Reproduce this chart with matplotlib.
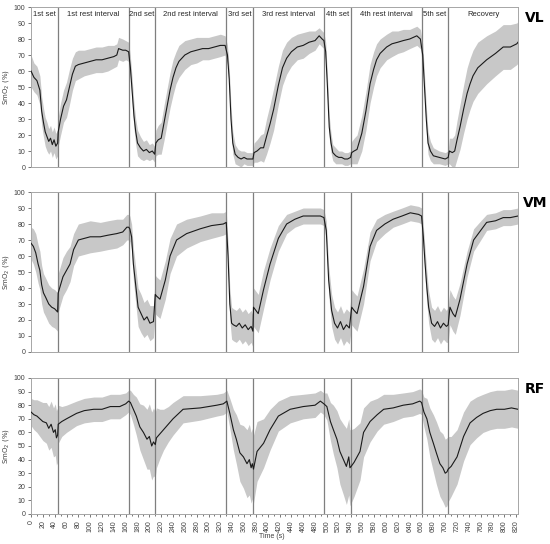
import matplotlib
matplotlib.use("Agg")
import matplotlib.pyplot as plt
from matplotlib.ticker import MultipleLocator

# ---------------- data ----------------
boundaries = [45, 165, 210, 330, 375, 495, 540, 660, 705]
phase_labels = ["1st set", "1st rest interval", "2nd set", "2nd rest interval",
                "3rd set", "3rd rest interval", "4th set", "4th rest interval",
                "5th set", "Recovery"]
muscles = ["VL", "VM", "RF"]

vl_time = [0, 5, 10, 15, 18, 21, 24, 27, 30, 33, 36, 39, 42, 45,
           46, 50, 55, 60, 65, 70, 75, 80, 90, 100, 110, 120, 130, 140, 145, 148, 155, 160, 165,
           168, 171, 174, 177, 180, 185, 190, 195, 200, 205, 209,
           211, 215, 220, 225, 230, 235, 240, 245, 250, 260, 270, 280, 290, 300, 310, 320, 328,
           332, 335, 338, 341, 345, 350, 355, 360, 365, 370, 375,
           377, 382, 388, 393, 398, 404, 410, 418, 425, 432, 440, 450, 460, 470, 480, 487, 492, 495,
           498, 501, 504, 507, 510, 515, 520, 525, 530, 535, 540,
           542, 546, 551, 559, 566, 573, 579, 584, 590, 601, 610, 620, 629, 640, 652, 658,
           662, 665, 668, 671, 675, 680, 690, 700, 705,
           707, 712, 716, 720, 725, 731, 737, 742, 747, 755, 770, 785, 798, 810, 821, 823]
vl_mean = [60, 56, 54, 48, 35, 28, 22, 19, 16, 18, 14, 17, 13, 15,
           22, 30, 38, 42, 50, 58, 63, 64, 65, 66, 67, 67, 68, 69, 70, 74, 73, 73, 72,
           62, 47, 32, 22, 15, 12, 10, 11, 9, 10, 8,
           15, 17, 18, 28, 38, 48, 56, 62, 66, 70, 72, 73, 74, 74, 75, 76, 76,
           70, 55, 30, 15, 8, 6, 5, 6, 5, 5, 5,
           9, 10, 12, 12, 19, 27, 36, 51, 62, 68, 72, 75, 76, 78, 79, 82, 80, 79,
           72, 50, 25, 15, 9, 7, 6, 6, 5, 5, 6,
           9, 10, 11, 21, 35, 52, 61, 67, 71, 75, 77, 78, 79, 80, 82, 80,
           70, 50, 30, 15, 10, 7, 6, 5, 6,
           10, 9, 10, 17, 25, 36, 46, 52, 57, 62, 67, 71, 75, 75, 77, 78]
vl_sd = [10, 9, 9, 9, 9, 9, 9, 9, 8, 8, 8, 8, 8, 8,
         9, 10, 10, 11, 11, 10, 9, 9, 8, 8, 8, 8, 8, 7, 7, 7, 7, 6, 6,
         7, 8, 8, 8, 8, 7, 6, 6, 5, 5, 5,
         8, 9, 10, 11, 11, 11, 11, 10, 10, 9, 8, 8, 7, 7, 7, 7, 6,
         6, 7, 8, 7, 6, 5, 5, 4, 4, 4, 4,
         6, 7, 8, 9, 11, 12, 13, 12, 11, 10, 9, 8, 8, 7, 6, 5, 5, 5,
         6, 7, 7, 6, 5, 5, 4, 4, 4, 4, 4,
         7, 8, 9, 11, 12, 12, 11, 10, 9, 8, 8, 7, 7, 6, 6, 6,
         7, 8, 8, 7, 6, 5, 4, 4, 4,
         8, 9, 10, 12, 14, 15, 16, 16, 16, 16, 15, 14, 14, 14, 13, 13]

vm_time = [0, 4, 8, 12, 15, 18, 21, 25, 30, 35, 40, 45,
           46, 54, 60, 66, 72, 80, 100, 117, 130, 145, 155, 162, 165,
           167, 170, 173, 176, 181, 186, 191, 196, 201, 207,
           210, 212, 218, 227, 235, 246, 263, 286, 305, 325, 330,
           333, 336, 339, 342, 347, 352, 357, 362, 367, 372, 375,
           376, 380, 384, 393, 404, 418, 432, 446, 460, 475, 489, 495,
           499, 503, 508, 513, 518, 523, 528, 533, 538,
           542, 546, 551, 562, 573, 584, 598, 612, 627, 641, 655, 660,
           663, 666, 669, 672, 677, 682, 687, 692, 697, 702,
           705, 708, 713, 717, 725, 737, 748, 760, 770, 785, 798, 810, 823]
vm_mean = [68, 66, 62, 55, 51, 42, 37, 34, 30, 28, 27, 25,
           37, 47, 51, 55, 64, 70, 72, 72, 73, 74, 75, 78, 78,
           77, 72, 55, 45, 28, 24, 20, 22, 18, 19,
           36, 35, 33, 45, 60, 70, 74, 77, 79, 80, 81,
           60, 30, 18, 17, 16, 18, 15, 17, 14, 16, 13,
           28, 26, 24, 39, 55, 71, 80, 83, 85, 85, 85, 84,
           76, 45, 26, 18, 15, 19, 14, 17, 15,
           28, 26, 24, 41, 66, 76, 80, 83, 85, 87, 86, 85,
           72, 55, 40, 28, 18, 16, 19, 15, 18, 16,
           17, 28, 24, 22, 33, 55, 70, 76, 81, 82, 84, 84, 85]
vm_sd = [10, 11, 12, 12, 12, 12, 12, 12, 12, 12, 12, 12,
         12, 12, 12, 11, 10, 10, 10, 9, 9, 9, 8, 8, 8,
         8, 8, 10, 11, 12, 12, 11, 11, 11, 10,
         12, 12, 12, 12, 11, 10, 9, 8, 8, 7, 7,
         8, 10, 10, 10, 10, 10, 10, 10, 10, 10, 10,
         12, 12, 12, 12, 10, 8, 6, 5, 5, 5, 5, 5,
         6, 9, 10, 10, 10, 10, 10, 10, 10,
         11, 11, 11, 11, 9, 7, 6, 5, 5, 5, 5, 5,
         7, 9, 10, 10, 10, 10, 10, 10, 10, 10,
         11, 11, 11, 11, 10, 8, 7, 6, 5, 5, 5, 5, 5]

rf_time = [0, 5, 10, 15, 20, 26, 30, 34, 38, 41, 43, 45,
           46, 52, 60, 77, 90, 106, 120, 134, 150, 160, 165,
           168, 173, 178, 184, 190, 196, 200, 204, 207,
           210, 212, 218, 224, 232, 240, 257, 286, 314, 325, 331,
           336, 342, 347, 353, 359, 365, 369, 372, 374,
           376, 382, 393, 404, 418, 438, 460, 480, 489, 495,
           500, 506, 511, 517, 522, 528, 533, 537, 539,
           541, 546, 551, 556, 562, 573, 585, 596, 612, 629, 645, 657, 660,
           664, 669, 674, 680, 685, 691, 696, 700, 703,
           705, 710, 720, 731, 742, 753, 764, 776, 787, 800, 812, 823]
rf_mean = [75, 73, 72, 70, 68, 67, 63, 66, 60, 62, 56, 58,
           66, 68, 70, 74, 76, 77, 77, 79, 79, 81, 83,
           82, 77, 72, 64, 60, 55, 57, 50, 53,
           51, 56, 59, 62, 66, 70, 77, 78, 80, 81, 83,
           74, 62, 55, 45, 42, 37, 40, 34, 37,
           33, 46, 52, 62, 72, 77, 79, 80, 83, 81,
           79, 68, 62, 55, 46, 40, 35, 42, 34,
           35, 38, 42, 46, 60, 68, 73, 77, 78, 80, 81, 83, 82,
           75, 70, 60, 52, 45, 37, 34, 30, 31,
           33, 35, 42, 57, 67, 71, 74, 76, 77, 77, 78, 77]
rf_sd = [10, 11, 12, 13, 14, 15, 16, 17, 18, 19, 20, 20,
         14, 11, 10, 9, 9, 9, 9, 9, 9, 8, 8,
         9, 11, 14, 17, 20, 22, 24, 25, 25,
         24, 22, 18, 15, 13, 12, 10, 9, 8, 8, 8,
         11, 15, 18, 21, 23, 25, 26, 26, 26,
         25, 22, 18, 15, 11, 10, 9, 9, 8, 8,
         10, 14, 18, 21, 24, 26, 28, 28, 28,
         27, 25, 23, 21, 18, 15, 12, 11, 10, 9, 9, 9, 9,
         11, 15, 18, 21, 23, 24, 25, 25, 25,
         24, 22, 20, 18, 16, 15, 14, 14, 14, 14, 14, 14]

series = {"VL": (vl_time, vl_mean, vl_sd),
          "VM": (vm_time, vm_mean, vm_sd),
          "RF": (rf_time, rf_mean, rf_sd)}

# ---------------- figure ----------------
W, H = 550, 544
fig = plt.figure(figsize=(W / 100, H / 100), dpi=100)
panel_px = [(7, 167), (192, 352), (378, 514)]
left, right = 31, 518
tick_col = "#404040"
frame_col = "#a6a6a6"
small_font = ["Liberation Sans Narrow", "Liberation Sans", "DejaVu Sans"]

for i, (name, (top, bot)) in enumerate(zip(muscles, panel_px)):
    ax = fig.add_axes([left / W, 1 - bot / H, (right - left) / W, (bot - top) / H])
    t, m, s = series[name]
    lo = [a - b for a, b in zip(m, s)]
    hi = [a + b for a, b in zip(m, s)]
    ax.fill_between(t, lo, hi, color="#c8c8c8", lw=0, zorder=1)
    ax.plot(t, m, color="#1a1a1a", lw=0.8, zorder=3)
    for b in boundaries:
        ax.axvline(b, color="#7f7f7f", lw=0.9, zorder=2)
    ax.set_xlim(0, 823)
    ax.set_ylim(0, 100)
    ax.yaxis.set_major_locator(MultipleLocator(10))
    ax.tick_params(axis="y", labelsize=5, colors=tick_col, length=2, width=0.5, pad=2)
    for lab in ax.get_yticklabels():
        lab.set_family(small_font)
    for sp in ax.spines.values():
        sp.set_color(frame_col)
        sp.set_linewidth(0.7)
    ax.set_ylabel("SmO$_2$ (%)", fontsize=5, color=tick_col)
    ax.yaxis.set_label_coords((11 - left) / (right - left), 0.5)
    fig.text(535 / W, 1 - (top + 11) / H, name, fontsize=10, fontweight="bold",
             ha="center", va="center", color="black")
    if i < 2:
        ax.set_xticks([])
    else:
        ax.xaxis.set_major_locator(MultipleLocator(20))
        ax.xaxis.set_minor_locator(MultipleLocator(10))
        ax.tick_params(axis="x", which="major", labelsize=5, colors=tick_col,
                       length=2.5, width=0.5, labelrotation=90, pad=2)
        ax.tick_params(axis="x", which="minor", colors=tick_col, length=1.5, width=0.5)
        for lab in ax.get_xticklabels():
            lab.set_family(small_font)
    if i == 0:
        edges = [0] + boundaries + [823]
        for k, lab in enumerate(phase_labels):
            ax.text((edges[k] + edges[k + 1]) / 2, 97.5, lab, fontsize=5.5,
                    family=small_font, ha="center", va="top", color="#262626")

fig.text(272 / W, 1 - 537 / H, "Time (s)", fontsize=5, family=small_font,
         color=tick_col, ha="center", va="center")

fig.savefig("out.png", dpi=100)
